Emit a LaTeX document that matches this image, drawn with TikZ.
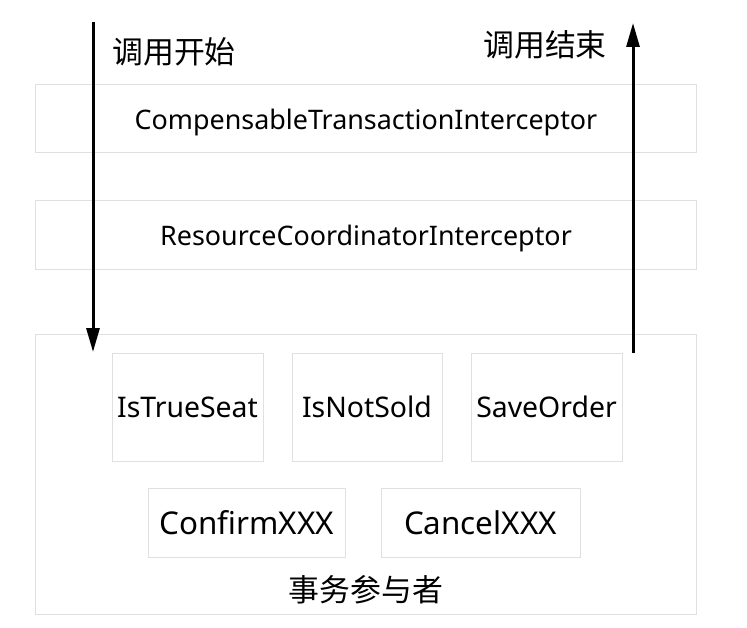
\documentclass[tikz,border=0pt]{standalone}
\usepackage{fontspec}
\setmainfont{Noto Sans}
\newfontfamily\cjk{Noto Sans CJK SC}
\usetikzlibrary{arrows.meta}
\begin{document}
\begin{tikzpicture}[x=1bp,y=-1bp,
  frame/.style={draw=black!12,line width=1bp,inner sep=0pt,fill=white},
  lat/.style={font=\fontsize{27}{31}\selectfont,text depth=0pt},
  seat/.style={font=\fontsize{28.5}{32}\selectfont},
  act/.style={font=\fontsize{31.5}{35}\selectfont},
  zh/.style={font=\cjk\fontsize{31}{34}\selectfont,inner sep=0pt},
  flow/.style={line width=3bp,-{Triangle[length=24bp,width=13bp]}}]
\useasboundingbox[fill=white] (0,0) rectangle (747,628);
\node[frame,minimum width=660bp,minimum height=68bp,lat] (comp) at (366,119) {CompensableTransactionInterceptor};
\node[frame,minimum width=660bp,minimum height=68bp,lat] (res) at (366,235) {ResourceCoordinatorInterceptor};
\node[frame,minimum width=660bp,minimum height=280bp] (part) at (366,474) {};
\node[frame,minimum width=151bp,minimum height=108bp,seat] (s1) at (187.5,407) {IsTrueSeat};
\node[frame,minimum width=150bp,minimum height=108bp,seat] (s2) at (367,407) {IsNotSold};
\node[frame,minimum width=151bp,minimum height=108bp,seat] (s3) at (546.5,407) {SaveOrder};
\node[frame,minimum width=197bp,minimum height=69bp,act] (c1) at (246.5,522.5) {ConfirmXXX};
\node[frame,minimum width=199bp,minimum height=69bp,act] (c2) at (480.5,522.5) {CancelXXX};
\node[zh] (plab) at (366,590) {事务参与者};
\node[zh] (start) at (174,52) {调用开始};
\node[zh] (end) at (545,45) {调用结束};
\coordinate (a1s) at (93,22);
\coordinate (a1e) at (93,352);
\coordinate (a2s) at (633,353);
\coordinate (a2e) at (633,23);
\draw[flow] (a1s) -- (a1e);
\draw[flow] (a2s) -- (a2e);
\end{tikzpicture}
\end{document}
